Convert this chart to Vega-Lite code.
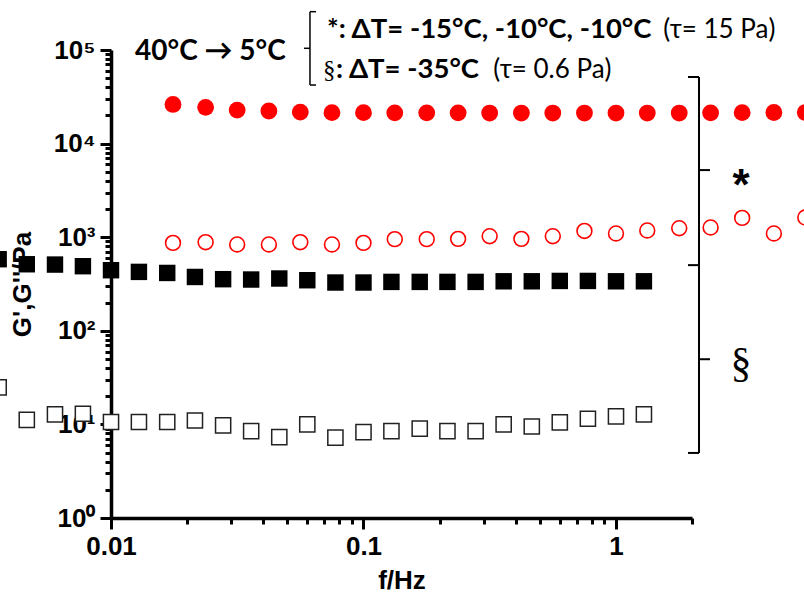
{
  "$schema": "https://vega.github.io/schema/vega-lite/v6.json",
  "width": 581,
  "height": 468,
  "autosize": {"type": "none"},
  "padding": {"left": 111, "top": 50, "right": 112, "bottom": 78},
  "background": "white",
  "config": {"view": {"stroke": null}},
  "datasets": {
    "pts": [
      {"s": "Gp1", "f": 0.0176, "G": 26200}, {"s": "Gp1", "f": 0.0237, "G": 24400}, {"s": "Gp1", "f": 0.0316, "G": 22800},
      {"s": "Gp1", "f": 0.0422, "G": 22300}, {"s": "Gp1", "f": 0.0562, "G": 21700}, {"s": "Gp1", "f": 0.075, "G": 21400},
      {"s": "Gp1", "f": 0.1, "G": 21400}, {"s": "Gp1", "f": 0.133, "G": 21300}, {"s": "Gp1", "f": 0.178, "G": 21300},
      {"s": "Gp1", "f": 0.237, "G": 21300}, {"s": "Gp1", "f": 0.316, "G": 21200}, {"s": "Gp1", "f": 0.422, "G": 21200},
      {"s": "Gp1", "f": 0.562, "G": 21200}, {"s": "Gp1", "f": 0.75, "G": 21200}, {"s": "Gp1", "f": 1.0, "G": 21200},
      {"s": "Gp1", "f": 1.33, "G": 21200}, {"s": "Gp1", "f": 1.78, "G": 21200}, {"s": "Gp1", "f": 2.37, "G": 21300},
      {"s": "Gp1", "f": 3.16, "G": 21400}, {"s": "Gp1", "f": 4.22, "G": 21500}, {"s": "Gp1", "f": 5.62, "G": 21500},
      {"s": "Gpp1", "f": 0.0176, "G": 869}, {"s": "Gpp1", "f": 0.0237, "G": 885}, {"s": "Gpp1", "f": 0.0316, "G": 836},
      {"s": "Gpp1", "f": 0.0422, "G": 836}, {"s": "Gpp1", "f": 0.0562, "G": 885}, {"s": "Gpp1", "f": 0.075, "G": 836},
      {"s": "Gpp1", "f": 0.1, "G": 869}, {"s": "Gpp1", "f": 0.133, "G": 953}, {"s": "Gpp1", "f": 0.178, "G": 953},
      {"s": "Gpp1", "f": 0.237, "G": 960}, {"s": "Gpp1", "f": 0.316, "G": 1025}, {"s": "Gpp1", "f": 0.422, "G": 960},
      {"s": "Gpp1", "f": 0.562, "G": 1025}, {"s": "Gpp1", "f": 0.75, "G": 1167}, {"s": "Gpp1", "f": 1.0, "G": 1096},
      {"s": "Gpp1", "f": 1.33, "G": 1180}, {"s": "Gpp1", "f": 1.78, "G": 1248}, {"s": "Gpp1", "f": 2.37, "G": 1270},
      {"s": "Gpp1", "f": 3.16, "G": 1608}, {"s": "Gpp1", "f": 4.22, "G": 1096}, {"s": "Gpp1", "f": 5.62, "G": 1625},
      {"s": "Gp2", "f": 0.00359, "G": 582}, {"s": "Gp2", "f": 0.00464, "G": 514}, {"s": "Gp2", "f": 0.00600, "G": 510},
      {"s": "Gp2", "f": 0.00774, "G": 490}, {"s": "Gp2", "f": 0.0100, "G": 444}, {"s": "Gp2", "f": 0.0129, "G": 426},
      {"s": "Gp2", "f": 0.0167, "G": 415}, {"s": "Gp2", "f": 0.0215, "G": 376}, {"s": "Gp2", "f": 0.0278, "G": 356},
      {"s": "Gp2", "f": 0.0359, "G": 353}, {"s": "Gp2", "f": 0.0464, "G": 362}, {"s": "Gp2", "f": 0.0599, "G": 347},
      {"s": "Gp2", "f": 0.0774, "G": 328}, {"s": "Gp2", "f": 0.100, "G": 328}, {"s": "Gp2", "f": 0.129, "G": 333},
      {"s": "Gp2", "f": 0.167, "G": 333}, {"s": "Gp2", "f": 0.215, "G": 333}, {"s": "Gp2", "f": 0.278, "G": 333},
      {"s": "Gp2", "f": 0.359, "G": 338}, {"s": "Gp2", "f": 0.464, "G": 338}, {"s": "Gp2", "f": 0.599, "G": 341},
      {"s": "Gp2", "f": 0.774, "G": 341}, {"s": "Gp2", "f": 1.00, "G": 338}, {"s": "Gp2", "f": 1.29, "G": 338},
      {"s": "Gpp2", "f": 0.00359, "G": 24.9}, {"s": "Gpp2", "f": 0.00464, "G": 11.2}, {"s": "Gpp2", "f": 0.00600, "G": 12.8},
      {"s": "Gpp2", "f": 0.00774, "G": 13.0}, {"s": "Gpp2", "f": 0.0100, "G": 10.6}, {"s": "Gpp2", "f": 0.0129, "G": 10.6},
      {"s": "Gpp2", "f": 0.0167, "G": 10.6}, {"s": "Gpp2", "f": 0.0215, "G": 11.0}, {"s": "Gpp2", "f": 0.0278, "G": 9.75},
      {"s": "Gpp2", "f": 0.0359, "G": 8.47}, {"s": "Gpp2", "f": 0.0464, "G": 7.31}, {"s": "Gpp2", "f": 0.0599, "G": 10.0},
      {"s": "Gpp2", "f": 0.0774, "G": 7.21}, {"s": "Gpp2", "f": 0.100, "G": 8.28}, {"s": "Gpp2", "f": 0.129, "G": 8.47},
      {"s": "Gpp2", "f": 0.167, "G": 9.0}, {"s": "Gpp2", "f": 0.215, "G": 8.47}, {"s": "Gpp2", "f": 0.278, "G": 8.47},
      {"s": "Gpp2", "f": 0.359, "G": 10.0}, {"s": "Gpp2", "f": 0.464, "G": 9.5}, {"s": "Gpp2", "f": 0.599, "G": 10.5},
      {"s": "Gpp2", "f": 0.774, "G": 11.5}, {"s": "Gpp2", "f": 1.00, "G": 12.2}, {"s": "Gpp2", "f": 1.29, "G": 12.8}
    ],
    "brace": [
      {"f": 2.132, "f2": 2.132, "G": 51450, "G2": 4.955},
      {"f": 1.928, "f2": 2.132, "G": 51450, "G2": 51450},
      {"f": 1.928, "f2": 2.132, "G": 503, "G2": 503},
      {"f": 1.928, "f2": 2.132, "G": 4.955, "G2": 4.955},
      {"f": 2.132, "f2": 2.357, "G": 5213, "G2": 5213},
      {"f": 2.132, "f2": 2.357, "G": 49.7, "G2": 49.7}
    ],
    "bracket": [
      {"f": 0.06138, "f2": 0.06138, "G": 256700, "G2": 42250},
      {"f": 0.06138, "f2": 0.06484, "G": 256700, "G2": 256700},
      {"f": 0.06138, "f2": 0.06484, "G": 42250, "G2": 42250},
      {"f": 0.05812, "f2": 0.06138, "G": 104270, "G2": 104270}
    ],
    "notes": [
      {"id": "head", "f": 0.01245, "G": 78170, "label": "40°C → 5°C"},
      {"id": "b1", "f": 0.07168, "G": 133400, "label": "*: ΔT= -15°C, -10°C, -10°C"},
      {"id": "r1", "f": 1.5394, "G": 133400, "label": "(τ= 15 Pa)"},
      {"id": "sec2", "f": 0.06912, "G": 49830, "label": "§"},
      {"id": "b2", "f": 0.07783, "G": 49830, "label": ": ΔT= -35°C"},
      {"id": "r2", "f": 0.3266, "G": 49830, "label": "(τ= 0.6 Pa)"},
      {"id": "star", "f": 3.126, "G": 2491, "label": "*"},
      {"id": "sec", "f": 3.126, "G": 31.9, "label": "§"}
    ]
  },
  "encoding": {
    "x": {
      "field": "f", "type": "quantitative",
      "scale": {"type": "log", "domain": [0.01, 2], "nice": false},
      "axis": {
        "title": "f/Hz", "grid": false,
        "values": [0.01, 0.02, 0.03, 0.04, 0.05, 0.06, 0.07, 0.08, 0.09, 0.1, 0.2, 0.3, 0.4, 0.5, 0.6, 0.7, 0.8, 0.9, 1, 2],
        "labelExpr": "datum.value == 0.01 ? '0.01' : datum.value == 0.1 ? '0.1' : datum.value == 1 ? '1' : ''",
        "tickSize": {"condition": {"test": "datum.value == 0.01 || datum.value == 0.1 || datum.value == 1", "value": 11}, "value": 6},
        "tickWidth": 3, "tickColor": "black", "tickCap": "butt",
        "domainWidth": 3.5, "domainColor": "black",
        "labelFont": "Liberation Sans", "labelFontWeight": "bold", "labelFontSize": 26, "labelColor": "black",
        "labelPadding": 4, "labelOverlap": false, "labelFlush": false,
        "titleFont": "Liberation Sans", "titleFontWeight": "bold", "titleFontSize": 26, "titleColor": "black",
        "titlePadding": 8
      }
    },
    "y": {
      "field": "G", "type": "quantitative",
      "scale": {"type": "log", "domain": [1, 100000], "nice": false},
      "axis": {
        "title": "G',G''/Pa", "grid": false,
        "values": [1, 2, 3, 4, 5, 6, 7, 8, 9, 10, 20, 30, 40, 50, 60, 70, 80, 90, 100, 200, 300, 400, 500, 600, 700, 800, 900, 1000, 2000, 3000, 4000, 5000, 6000, 7000, 8000, 9000, 10000, 20000, 30000, 40000, 50000, 60000, 70000, 80000, 90000, 100000],
        "labelExpr": "datum.value == 1 ? '10⁰' : datum.value == 10 ? '10¹' : datum.value == 100 ? '10²' : datum.value == 1000 ? '10³' : datum.value == 10000 ? '10⁴' : datum.value == 100000 ? '10⁵' : ''",
        "tickSize": {"condition": {"test": "datum.value == 1 || datum.value == 10 || datum.value == 100 || datum.value == 1000 || datum.value == 10000 || datum.value == 100000", "value": 11}, "value": 6},
        "tickWidth": 3, "tickColor": "black", "tickCap": "butt",
        "domainWidth": 3.5, "domainColor": "black",
        "labelFont": "Liberation Sans", "labelFontWeight": "bold", "labelFontSize": 26, "labelColor": "black",
        "labelPadding": 5, "labelOverlap": false, "labelFlush": false,
        "titleFont": "Liberation Sans", "titleFontWeight": "bold", "titleFontSize": 26, "titleColor": "black",
        "titlePadding": 18
      }
    }
  },
  "layer": [
    {
      "data": {"name": "pts"},
      "transform": [{"filter": "datum.s == 'Gp1'"}],
      "mark": {"type": "point", "shape": "circle", "filled": true, "color": "#ff0000", "size": 283, "opacity": 1, "strokeWidth": 0}
    },
    {
      "data": {"name": "pts"},
      "transform": [{"filter": "datum.s == 'Gpp1'"}],
      "mark": {"type": "point", "shape": "circle", "filled": false, "color": "#ff0000", "size": 220, "opacity": 1, "strokeWidth": 1.6}
    },
    {
      "data": {"name": "pts"},
      "transform": [{"filter": "datum.s == 'Gp2'"}],
      "mark": {"type": "point", "shape": "square", "filled": true, "color": "#000000", "size": 270, "opacity": 1, "strokeWidth": 0}
    },
    {
      "data": {"name": "pts"},
      "transform": [{"filter": "datum.s == 'Gpp2'"}],
      "mark": {"type": "point", "shape": "square", "fill": "white", "fillOpacity": 1, "stroke": "#222222", "size": 230, "opacity": 1, "strokeWidth": 1.5}
    },
    {
      "data": {"name": "brace"},
      "mark": {"type": "rule", "color": "black", "strokeWidth": 2},
      "encoding": {"x2": {"field": "f2"}, "y2": {"field": "G2"}}
    },
    {
      "data": {"name": "bracket"},
      "mark": {"type": "rule", "color": "black", "strokeWidth": 1.5},
      "encoding": {"x2": {"field": "f2"}, "y2": {"field": "G2"}}
    },
    {
      "data": {"name": "notes"},
      "transform": [{"filter": "datum.id == 'head'"}],
      "mark": {"type": "text", "font": "Lato, Open Sans", "fontWeight": "bold", "fontSize": 28, "align": "left", "baseline": "alphabetic", "color": "black"},
      "encoding": {"text": {"field": "label"}}
    },
    {
      "data": {"name": "notes"},
      "transform": [{"filter": "datum.id == 'b1' || datum.id == 'b2'"}],
      "mark": {"type": "text", "font": "Lato, Open Sans", "fontWeight": "bold", "fontSize": 27.5, "align": "left", "baseline": "alphabetic", "color": "black"},
      "encoding": {"text": {"field": "label"}}
    },
    {
      "data": {"name": "notes"},
      "transform": [{"filter": "datum.id == 'r1' || datum.id == 'r2'"}],
      "mark": {"type": "text", "font": "Lato, Open Sans", "fontSize": 26, "align": "left", "baseline": "alphabetic", "color": "black"},
      "encoding": {"text": {"field": "label"}}
    },
    {
      "data": {"name": "notes"},
      "transform": [{"filter": "datum.id == 'sec2'"}],
      "mark": {"type": "text", "font": "Liberation Serif", "fontSize": 25, "align": "left", "baseline": "alphabetic", "color": "black"},
      "encoding": {"text": {"field": "label"}}
    },
    {
      "data": {"name": "notes"},
      "transform": [{"filter": "datum.id == 'star'"}],
      "mark": {"type": "text", "font": "Liberation Sans", "fontWeight": "bold", "fontSize": 44, "align": "center", "baseline": "alphabetic", "color": "black"},
      "encoding": {"text": {"field": "label"}}
    },
    {
      "data": {"name": "notes"},
      "transform": [{"filter": "datum.id == 'sec'"}],
      "mark": {"type": "text", "font": "Liberation Serif", "fontSize": 42, "align": "center", "baseline": "alphabetic", "color": "black"},
      "encoding": {"text": {"field": "label"}}
    }
  ]
}
